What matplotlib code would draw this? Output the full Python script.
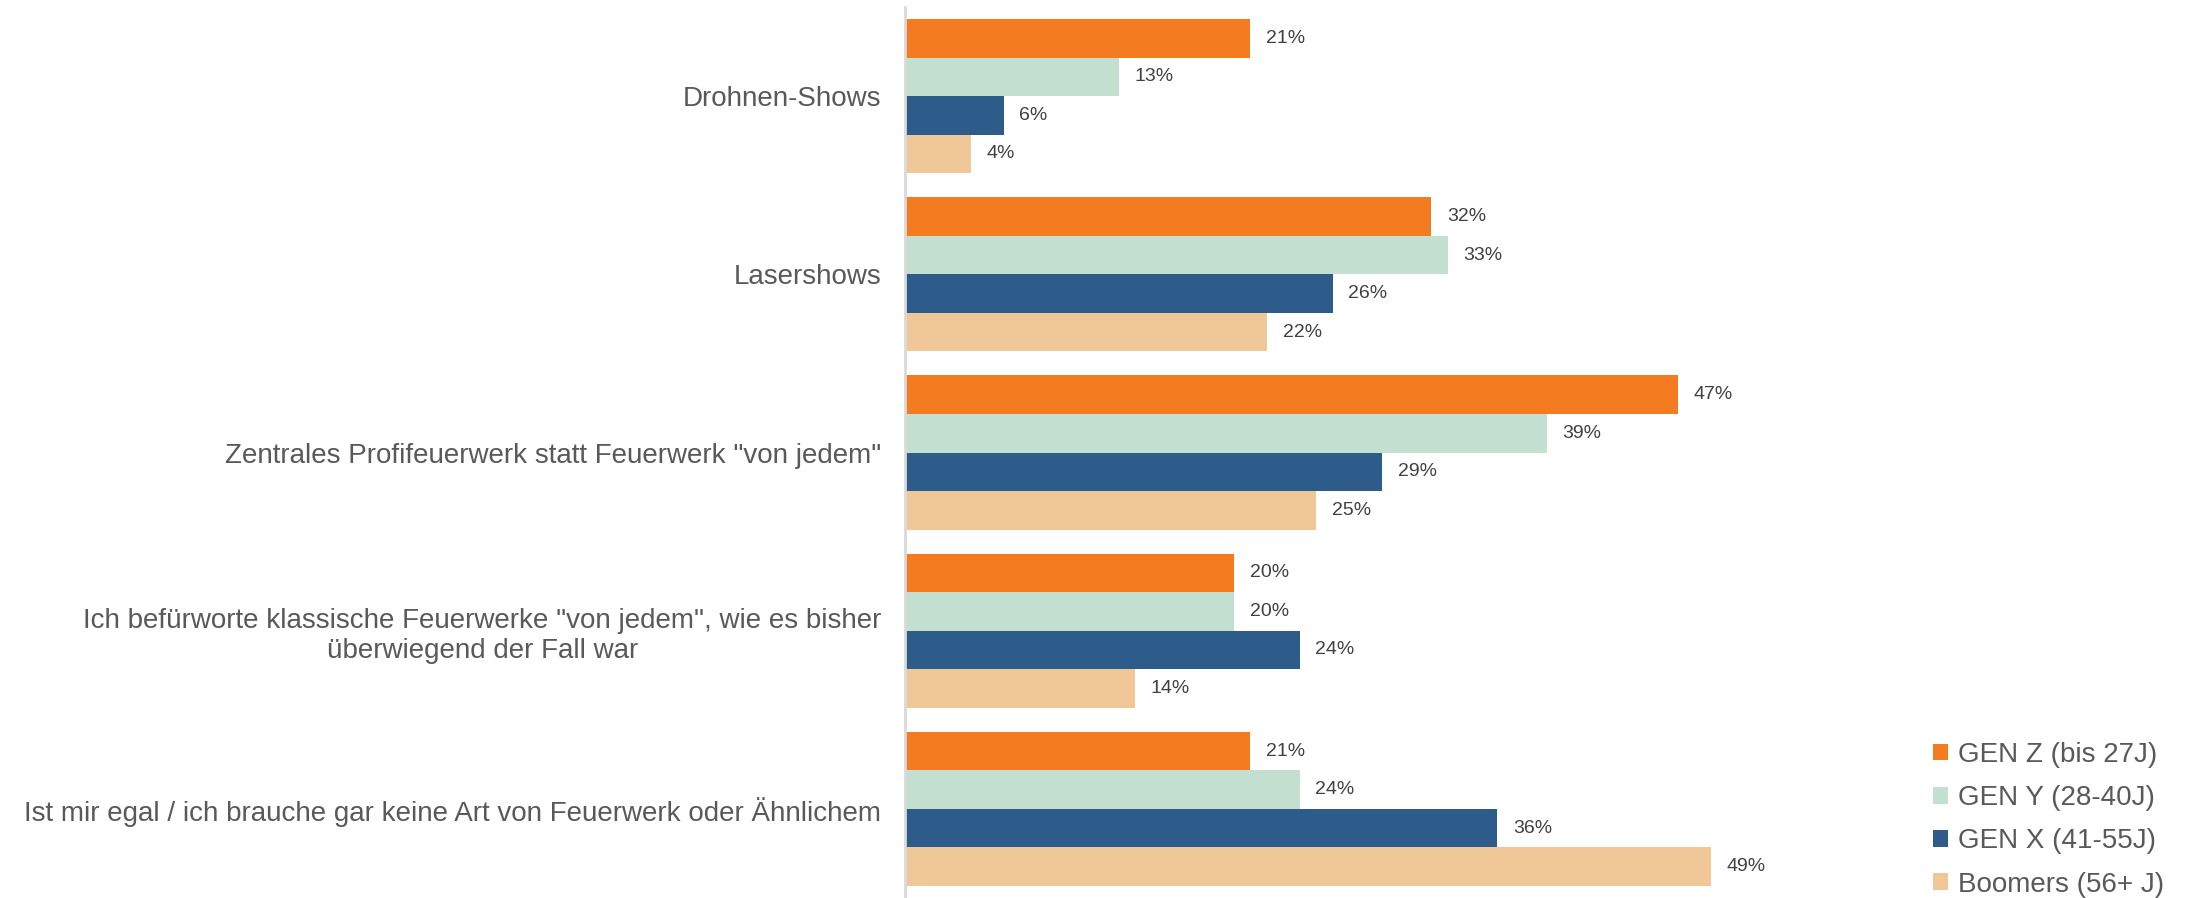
import numpy as np
import matplotlib.pyplot as plt

plt.rcParams['font.family'] = ['Liberation Sans', 'DejaVu Sans']

categories = [
    'Drohnen-Shows',
    'Lasershows',
    'Zentrales Profifeuerwerk statt Feuerwerk "von jedem"',
    'Ich befürworte klassische Feuerwerke "von jedem", wie es bisher\nüberwiegend der Fall war',
    'Ist mir egal / ich brauche gar keine Art von Feuerwerk oder Ähnlichem',
]
series_names = ['GEN Z (bis 27J)', 'GEN Y (28-40J)', 'GEN X (41-55J)', 'Boomers (56+ J)']
gen_z = [21, 32, 47, 20, 21]
gen_y = [13, 33, 39, 20, 24]
gen_x = [6, 26, 29, 24, 36]
boomers = [4, 22, 25, 14, 49]
colors = ['#F47B20', '#C3DFD0', '#2E5C8A', '#F0C897']

fig = plt.figure(figsize=(21.87, 8.98), dpi=100)
ax = fig.add_axes([905 / 2187, 0.0, 987 / 2187, 891 / 898])

n_series = 4
group = 0.865
h = group / n_series
y = np.arange(len(categories))

for j, (name, vals, c) in enumerate(zip(series_names, [gen_z, gen_y, gen_x, boomers], colors)):
    pos = y - group / 2 + h * (j + 0.5)
    ax.barh(pos, vals, height=h, color=c, label=name)
    for p, v in zip(pos, vals):
        ax.text(v + 0.95, p, f'{v}%', va='center', ha='left', fontsize=14, color='#404040')

ax.set_xlim(0, 60)
ax.set_ylim(len(categories) - 0.5, -0.5)
ax.set_xticks([])
ax.set_yticks(y)
ax.set_yticklabels(categories, fontsize=20, color='#595959', multialignment='center')
ax.tick_params(axis='y', length=0, pad=17)

for s in ['top', 'right', 'bottom']:
    ax.spines[s].set_visible(False)
ax.spines['left'].set_color('#D9D9D9')
ax.spines['left'].set_linewidth(2)

leg = fig.legend(loc='lower left', bbox_to_anchor=(1919 / 2187, -0.015), frameon=False,
                 fontsize=20, handlelength=0.55, handleheight=0.55, handletextpad=0.35,
                 labelspacing=0.62, borderpad=0.0)
for t in leg.get_texts():
    t.set_color('#595959')

fig.savefig('out.png', dpi=100)
